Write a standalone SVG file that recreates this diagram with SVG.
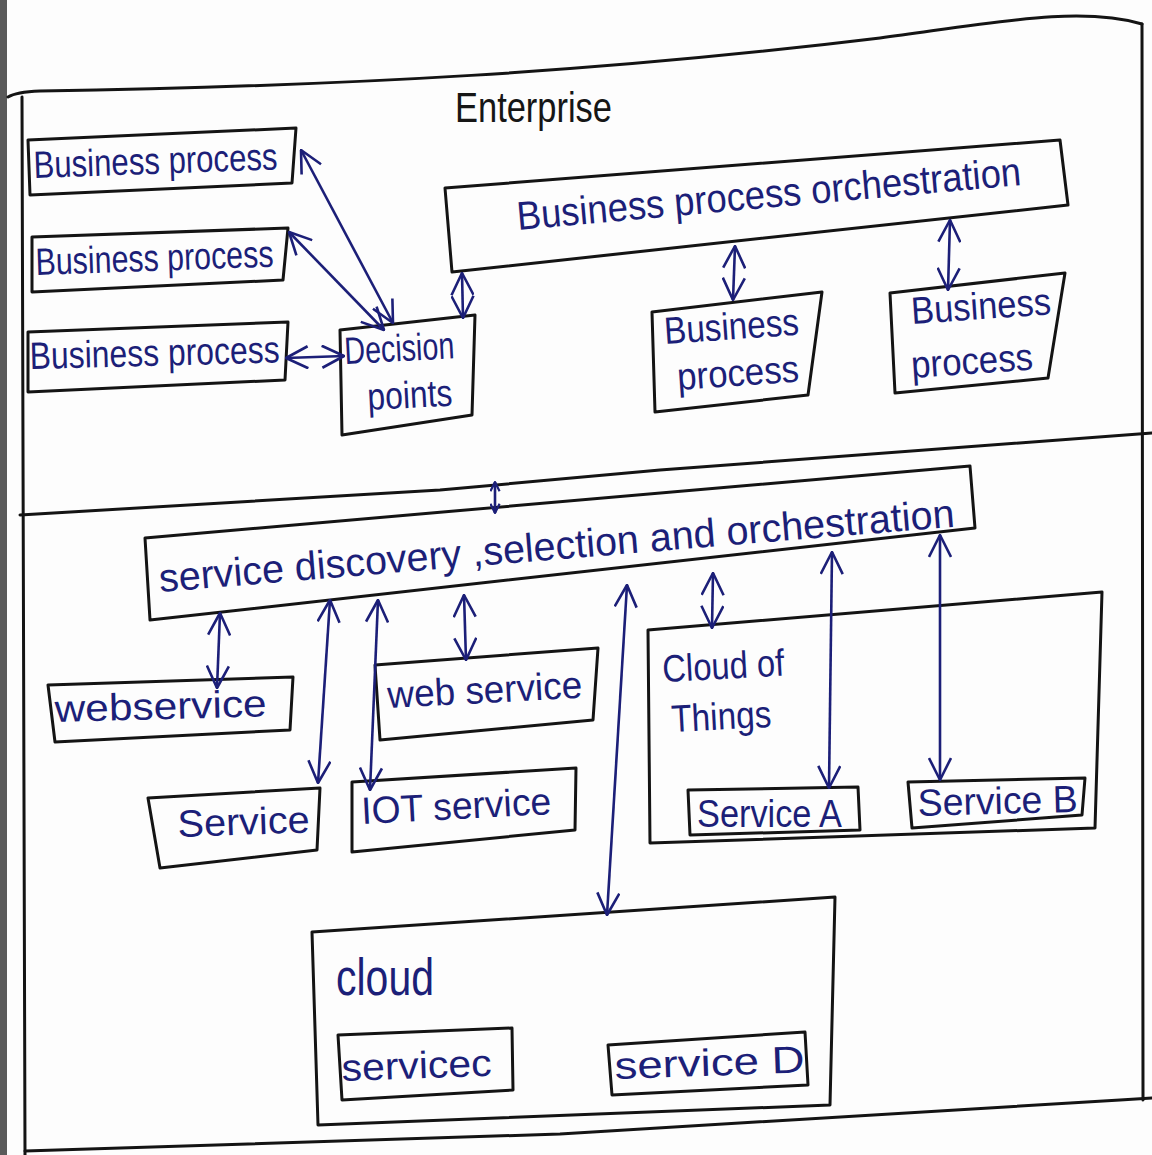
<svg xmlns="http://www.w3.org/2000/svg" width="1152" height="1155" viewBox="0 0 1152 1155">
  <defs>
    <marker id="ah" viewBox="0 0 24 24" refX="23" refY="12" markerWidth="24" markerHeight="24" markerUnits="userSpaceOnUse" orient="auto-start-reverse">
      <path d="M1,1 L23,12 L1,23" fill="none" stroke="#1c1f78" stroke-width="2.6" stroke-linejoin="round"/>
    </marker>
    <marker id="ahs" viewBox="0 0 12 12" refX="11" refY="6" markerWidth="11" markerHeight="11" markerUnits="userSpaceOnUse" orient="auto-start-reverse">
      <path d="M1,1 L11,6 L1,11" fill="none" stroke="#1c1f78" stroke-width="2.4" stroke-linejoin="round"/>
    </marker>
  </defs>
  <style>
    .box { fill: none; stroke: #141414; stroke-width: 3; stroke-linejoin: round; }
    .frame { fill: none; stroke: #141414; stroke-width: 3; stroke-linecap: round; }
    .lbl { font-family: "Liberation Sans", "DejaVu Sans", sans-serif; font-size: 38px; fill: #1c1f78; }
    .big { font-size: 40px; }
    .ttl { font-family: "Liberation Sans", "DejaVu Sans", sans-serif; font-size: 42px; fill: #161616; }
    .con { fill: none; stroke: #1c1f78; stroke-width: 2.6; marker-start: url(#ah); marker-end: url(#ah); }
    .con.small { marker-start: url(#ahs); marker-end: url(#ahs); }
  </style>
  <rect width="1152" height="1155" fill="#fdfdfd"/>
  <rect x="0" y="0" width="7" height="1155" fill="#5a5a5a"/>

  <g id="frame">
    <path class="frame" d="M8,97 Q16,92 40,91 C350,86 600,72 880,38 C1000,22 1080,6 1142,24"/>
    <path class="frame" d="M1142,24 L1143,1100"/>
    <path class="frame" d="M22,97 L25,1155"/>
    <path class="frame" d="M20,515 L440,490 L660,470 L1152,433"/>
    <path class="frame" d="M25,1151 L560,1134 L1120,1100 L1152,1098"/>
    <text class="ttl" x="455" y="122" textLength="157" lengthAdjust="spacingAndGlyphs">Enterprise</text>
  </g>

  <g id="bp1">
    <polygon class="box" points="28,140 296,128 292,183 30,195"/>
    <text class="lbl" x="34" y="178" textLength="244" lengthAdjust="spacingAndGlyphs" transform="rotate(-2 34 178)">Business process</text>
  </g>
  <g id="bp2">
    <polygon class="box" points="32,237 288,228 283,280 32,292"/>
    <text class="lbl" x="36" y="275" textLength="238" lengthAdjust="spacingAndGlyphs" transform="rotate(-2 36 275)">Business process</text>
  </g>
  <g id="bp3">
    <polygon class="box" points="28,332 288,322 285,380 28,392"/>
    <text class="lbl" x="30" y="369" textLength="250" lengthAdjust="spacingAndGlyphs" transform="rotate(-1.5 30 369)">Business process</text>
  </g>
  <g id="decision">
    <polygon class="box" points="340,330 475,315 472,415 342,435"/>
    <text class="lbl" x="345" y="364" textLength="110" lengthAdjust="spacingAndGlyphs" transform="rotate(-3 345 364)">Decision</text>
    <text class="lbl" x="368" y="410" textLength="85" lengthAdjust="spacingAndGlyphs" transform="rotate(-3 368 410)">points</text>
  </g>
  <g id="bpo">
    <polygon class="box" points="445,188 1060,140 1068,205 452,272"/>
    <text class="lbl big" x="518" y="230" textLength="506" lengthAdjust="spacingAndGlyphs" transform="rotate(-5.1 518 230)">Business process orchestration</text>
  </g>
  <g id="bp4">
    <polygon class="box" points="652,312 822,292 808,395 655,412"/>
    <text class="lbl" x="665" y="344" textLength="135" lengthAdjust="spacingAndGlyphs" transform="rotate(-4 665 344)">Business</text>
    <text class="lbl" x="678" y="390" textLength="122" lengthAdjust="spacingAndGlyphs" transform="rotate(-4 678 390)">process</text>
  </g>
  <g id="bp5">
    <polygon class="box" points="890,293 1065,273 1048,378 895,393"/>
    <text class="lbl" x="912" y="324" textLength="140" lengthAdjust="spacingAndGlyphs" transform="rotate(-4 912 324)">Business</text>
    <text class="lbl" x="912" y="378" textLength="122" lengthAdjust="spacingAndGlyphs" transform="rotate(-4 912 378)">process</text>
  </g>

  <g id="sdso">
    <polygon class="box" points="145,538 970,466 975,528 150,620"/>
    <text class="lbl big" x="160" y="592" textLength="798" lengthAdjust="spacingAndGlyphs" transform="rotate(-4.7 160 592)">service discovery ,selection and orchestration</text>
  </g>
  <g id="ws1">
    <polygon class="box" points="48,685 293,677 290,730 55,742"/>
    <text class="lbl" x="55" y="722" textLength="212" lengthAdjust="spacingAndGlyphs" transform="rotate(-1.5 55 722)">webservice</text>
  </g>
  <g id="svc">
    <polygon class="box" points="148,798 320,788 317,850 160,868"/>
    <text class="lbl" x="178" y="837" textLength="132" lengthAdjust="spacingAndGlyphs" transform="rotate(-2 178 837)">Service</text>
  </g>
  <g id="ws2">
    <polygon class="box" points="375,665 598,648 593,720 380,740"/>
    <text class="lbl" x="388" y="708" textLength="195" lengthAdjust="spacingAndGlyphs" transform="rotate(-3 388 708)">web service</text>
  </g>
  <g id="iot">
    <polygon class="box" points="352,782 576,768 575,830 352,852"/>
    <text class="lbl" x="362" y="824" textLength="190" lengthAdjust="spacingAndGlyphs" transform="rotate(-3 362 824)">IOT service</text>
  </g>
  <g id="cot">
    <polygon class="box" points="648,630 1102,592 1095,828 650,843"/>
    <text class="lbl" x="663" y="682" textLength="122" lengthAdjust="spacingAndGlyphs" transform="rotate(-3 663 682)">Cloud of</text>
    <text class="lbl" x="672" y="732" textLength="100" lengthAdjust="spacingAndGlyphs" transform="rotate(-3 672 732)">Things</text>
  </g>
  <g id="sa">
    <polygon class="box" points="688,790 858,787 860,830 690,835"/>
    <text class="lbl" x="697" y="827" textLength="145" lengthAdjust="spacingAndGlyphs">Service A</text>
  </g>
  <g id="sb">
    <polygon class="box" points="908,782 1085,778 1082,815 912,828"/>
    <text class="lbl" x="918" y="816" textLength="160" lengthAdjust="spacingAndGlyphs" transform="rotate(-1.5 918 816)">Service B</text>
  </g>
  <g id="cloud">
    <polygon class="box" points="312,932 835,897 830,1105 318,1125"/>
    <text class="lbl" x="336" y="995" textLength="98" lengthAdjust="spacingAndGlyphs" style="font-size:52px">cloud</text>
  </g>
  <g id="sc">
    <polygon class="box" points="338,1035 512,1028 513,1090 342,1100"/>
    <text class="lbl" x="342" y="1081" textLength="150" lengthAdjust="spacingAndGlyphs" transform="rotate(-2 342 1081)">servicec</text>
  </g>
  <g id="sd">
    <polygon class="box" points="608,1045 805,1032 808,1085 612,1095"/>
    <text class="lbl" x="615" y="1079" textLength="190" lengthAdjust="spacingAndGlyphs" transform="rotate(-2 615 1079)">service D</text>
  </g>

  <g id="connectors">
    <path class="con" d="M301,150 L393,323"/>
    <path class="con" d="M289,232 L384,330"/>
    <path class="con" d="M286,358 L344,356"/>
    <path class="con" d="M462,273 L463,318"/>
    <path class="con" d="M735,246 L733,300"/>
    <path class="con" d="M950,220 L948,290"/>
    <path class="con small" d="M495,482 L495,513"/>
    <path class="con" d="M220,613 L217,688"/>
    <path class="con" d="M330,600 L318,783"/>
    <path class="con" d="M378,600 L370,790"/>
    <path class="con" d="M464,595 L466,660"/>
    <path class="con" d="M627,585 L607,915"/>
    <path class="con" d="M713,573 L712,628"/>
    <path class="con" d="M832,552 L829,788"/>
    <path class="con" d="M940,535 L940,780"/>
  </g>
</svg>
